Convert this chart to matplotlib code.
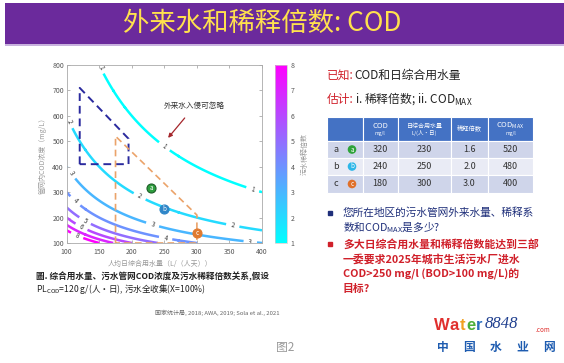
"""外来水和稀释倍数: COD slide"""
import numpy as np
import matplotlib
matplotlib.use('Agg')
import matplotlib.pyplot as plt
from matplotlib.patches import Rectangle, Circle
from matplotlib.cm import ScalarMappable
from matplotlib.colors import Normalize

plt.rcParams['font.family'] = ['Noto Sans CJK SC', 'DejaVu Sans']

# ---- data ----
PL_COD = 120                         # g/(人·日)
levels = [1, 2, 3, 4, 5, 6, 7, 8]    # 稀释倍数
q_range = [100, 400]                 # L/(人·天)
cod_range = [100, 800]               # mg/L

pt_names = ['a', 'b', 'c']
pt_q = [230, 250, 300]
pt_cod = [315, 235, 140]
pt_colors = ['#2E9E3E', '#2F86C8', '#E07A30']

box_q = [120, 120, 195, 195, 120]
box_cod = [410, 710, 510, 410, 410]
est_q = [175, 175, 300, 300, 175]
est_cod = [100, 520, 210, 100, 100]

tbl_cod = [320, 240, 180]
tbl_q = [230, 250, 300]
tbl_dil = ['1.6', '2.0', '3.0']
tbl_codmax = [520, 480, 400]
tbl_circle = ['#2EA33A', '#2DB6E8', '#E0702A']

W, H = 564, 363
fig = plt.figure(figsize=(W / 100, H / 100), dpi=100)
fig.patch.set_facecolor('white')

bg = fig.add_axes([0, 0, 1, 1])
bg.set_xlim(0, W)
bg.set_ylim(H, 0)
bg.axis('off')
renderer = fig.canvas.get_renderer()


def two_color(x, y, head, rest, size, c1, c2):
    t = bg.text(x, y, head, ha='left', va='center', fontsize=size, color=c1)
    w = t.get_window_extent(renderer).width
    bg.text(x + w + 1, y, rest, ha='left', va='center', fontsize=size, color=c2)


# title bar
bg.add_patch(Rectangle((5, 3), 559, 41, facecolor='#6B2A9C', edgecolor='none'))
bg.add_patch(Rectangle((5, 44), 559, 1.5, facecolor='#C8B2DE', edgecolor='none'))
bg.text(262, 23, '外来水和稀释倍数: COD', ha='center', va='center',
        fontsize=19, color='#FFE14D')

# ---- contour plot ----
ax = fig.add_axes([66.7 / W, 1 - 243 / H, 195.3 / W, 178 / H])
qq, cc = np.meshgrid(np.linspace(*q_range, 400), np.linspace(*cod_range, 400))
dil = PL_COD * 1000 / (qq * cc)
cs = ax.contour(qq, cc, dil, levels=levels, cmap='cool', vmin=1, vmax=8,
                linewidths=1.8)
label_pos = [(152, 790), (250, 480), (385, 305),
             (104, 575), (212, 283), (355, 168),
             (107, 375), (232, 173), (382, 105),
             (113, 265), (252, 120),
             (128, 187), (123, 165), (116, 130)]
ax.clabel(cs, manual=label_pos, inline=True, fmt='%d', fontsize=4.5,
          colors='#333333')

ax.plot(box_q, box_cod, ls=(0, (4, 2.5)), color='#2A2A9E', lw=1.4)
ax.plot(est_q, est_cod, ls=(0, (4, 2.5)), color='#EBA36A', lw=1.2)

for n, x, y, c in zip(pt_names, pt_q, pt_cod, pt_colors):
    ax.plot(x, y, 'o', ms=6.5, mfc=c, mec='#1D5E28' if n == 'a' else c, mew=0.8)
    ax.text(x, y, n, ha='center', va='center', fontsize=4.5, color='white')

ax.annotate('', xy=(253, 505), xytext=(284, 600),
            arrowprops=dict(arrowstyle='-|>', color='#A5262C', lw=0.9,
                            mutation_scale=6))
ax.text(296, 640, '外来水入侵可忽略', ha='center', va='center', fontsize=5.5,
        color='#333333')

ax.set_xlim(*q_range)
ax.set_ylim(*cod_range)
ax.set_xticks(range(100, 401, 50))
ax.set_yticks(range(100, 801, 100))
ax.tick_params(direction='in', length=2, width=0.5, colors='#999999',
               labelsize=5, labelcolor='#555555', top=True, right=True)
ax.tick_params(axis='x', pad=3.5)
ax.tick_params(axis='y', pad=2)
for s in ax.spines.values():
    s.set_color('#aaaaaa')
    s.set_linewidth(0.6)
ax.set_ylabel('管网内COD浓度（mg/L）', fontsize=5, color='#999999', labelpad=4)

cax = fig.add_axes([274.5 / W, 1 - 243 / H, 12 / W, 178 / H])
cb = fig.colorbar(ScalarMappable(norm=Normalize(1, 8), cmap='cool'), cax=cax)
cb.set_ticks(levels)
cb.outline.set_edgecolor('#cccccc')
cb.outline.set_linewidth(0.5)
cax.tick_params(length=0, labelsize=5, labelcolor='#555555', pad=3)
cb.set_label('污水稀释倍数', fontsize=5, color='#999999', labelpad=4)

# ---- captions under the plot ----
bg.text(160, 264, '人均日综合用水量（L/（人天））', ha='center', va='center',
        fontsize=5, color='#999999')
bg.text(36, 276, '圖. 综合用水量、污水管网COD浓度及污水稀释倍数关系,假设',
        ha='left', va='center', fontsize=6.2, color='#222222', weight='bold')
bg.text(36, 289, r'PL$_{\mathregular{COD}}$=120 g/(人·日), 污水全收集(X=100%)',
        ha='left', va='center', fontsize=6.2, color='#222222')
bg.text(217, 313, '国家统计局, 2018; AWA, 2019; Sola et al., 2021',
        ha='center', va='center', fontsize=4.3, color='#666666')

# ---- right side text ----
two_color(327, 75, '已知:', 'COD和日综合用水量', 8.5, '#D0202A', '#222222')
two_color(327, 99, '估计:', r'i. 稀释倍数; ii. COD$_{\mathregular{MAX}}$', 8.5,
          '#D0202A', '#222222')

# table
col_x = [327, 362.5, 398, 451, 488, 533]
row_y = [117, 141, 158, 175, 193]
row_bg = ['#CFD5EA', '#E9EBF5', '#CFD5EA']
for j in range(5):
    bg.add_patch(Rectangle((col_x[j], row_y[0]), col_x[j + 1] - col_x[j],
                           row_y[1] - row_y[0], facecolor='#4472C4',
                           edgecolor='white', lw=0.8))
    for i in range(3):
        bg.add_patch(Rectangle((col_x[j], row_y[i + 1]), col_x[j + 1] - col_x[j],
                               row_y[i + 2] - row_y[i + 1], facecolor=row_bg[i],
                               edgecolor='white', lw=0.8))
hy = (row_y[0] + row_y[1]) / 2
bg.text(380, hy - 3, 'COD', ha='center', va='center', fontsize=5.5, color='white')
bg.text(380, hy + 5, 'mg/l', ha='center', va='center', fontsize=3.5, color='white')
bg.text(424.5, hy - 3, '日综合用水量', ha='center', va='center', fontsize=4.3,
        color='white')
bg.text(424.5, hy + 4, 'L/(人·日)', ha='center', va='center', fontsize=4,
        color='white')
bg.text(469.5, hy, '稀释倍数', ha='center', va='center', fontsize=4.5, color='white')
bg.text(510.5, hy - 3, r'COD$_{\mathregular{MAX}}$', ha='center', va='center',
        fontsize=5.5, color='white')
bg.text(510.5, hy + 5, 'mg/l', ha='center', va='center', fontsize=3.5, color='white')
for i in range(3):
    yc = (row_y[i + 1] + row_y[i + 2]) / 2
    bg.text(333, yc, pt_names[i], ha='left', va='center', fontsize=6.5,
            color='#333333')
    bg.add_patch(Circle((352, yc), 4.3, facecolor=tbl_circle[i],
                        edgecolor='none'))
    bg.text(352, yc, pt_names[i], ha='center', va='center', fontsize=4.5,
            color='white')
    vals = [tbl_cod[i], tbl_q[i], tbl_dil[i], tbl_codmax[i]]
    for j, v in enumerate(vals):
        bg.text((col_x[j + 1] + col_x[j + 2]) / 2, yc, str(v), ha='center',
                va='center', fontsize=6.5, color='#333333')

# bullets
blue_lines = ['您所在地区的污水管网外来水量、稀释系',
              r'数和COD$_{\mathregular{MAX}}$是多少?']
red_lines = ['多大日综合用水量和稀释倍数能达到三部',
             '一委要求2025年城市生活污水厂进水',
             'COD>250 mg/l (BOD>100 mg/L)的',
             '目标?']
bg.plot(330, 213, 's', ms=2.5, color='#1F2F7A')
for k, t in enumerate(blue_lines):
    bg.text(343, 213 + k * 14.5, t, ha='left', va='center', fontsize=7.7,
            color='#1F2F7A')
bg.plot(330, 244, 's', ms=2.5, color='#D0202A')
for k, t in enumerate(red_lines):
    bg.text(343, 244 + k * 15, t, ha='left', va='center', fontsize=7.8,
            color='#D0202A', weight='bold')

# watermark
for ch, x, c in zip('Water', [434, 450, 460, 466, 476],
                    ['#E0302E', '#E0302E', '#F0A020', '#4CAF3A', '#2A6FC0']):
    bg.text(x, 325, ch, ha='left', va='center', fontsize=12, weight='bold',
            color=c, family='Liberation Sans')
bg.text(485, 324, '8848', ha='left', va='center', fontsize=12, style='italic',
        color='#1F3F8F', family='Liberation Serif')
bg.text(536, 330, '.com', ha='left', va='center', fontsize=4.5, color='#E0302E')
for k, ch in enumerate('中国水业网'):
    bg.text(443 + k * 26.5, 347, ch, ha='center', va='center', fontsize=8.5,
            weight='bold', color='#1E5CB0')
bg.text(285, 347, '图2', ha='center', va='center', fontsize=8.5, color='#999999')

fig.savefig('out.png', dpi=100, facecolor='white')
